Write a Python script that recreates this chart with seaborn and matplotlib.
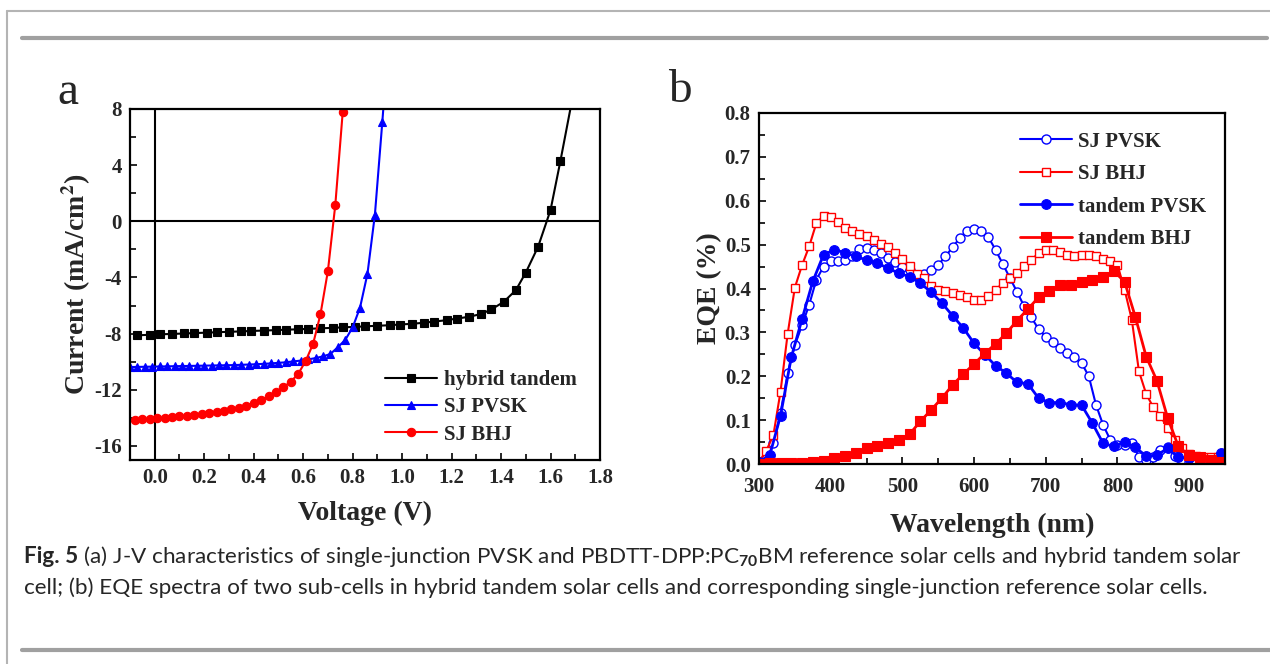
import numpy as np
import pandas as pd
import matplotlib
matplotlib.use("Agg")
import matplotlib.pyplot as plt
from matplotlib.lines import Line2D
from matplotlib.ticker import MultipleLocator, FormatStrFormatter
import seaborn as sns

# ---- panel a: J-V curves ----
v_tandem = [-0.07, -0.02, 0.02, 0.07, 0.12, 0.16, 0.21, 0.25, 0.30, 0.35, 0.39, 0.44,
            0.49, 0.53, 0.58, 0.62, 0.67, 0.72, 0.76, 0.81, 0.85, 0.90, 0.95, 0.99,
            1.04, 1.09, 1.13, 1.18, 1.22, 1.27, 1.32, 1.36, 1.41, 1.46, 1.50, 1.55,
            1.60, 1.64, 1.69]
j_tandem = [-8.12, -8.08, -8.05, -8.02, -7.99, -7.96, -7.93, -7.90, -7.87, -7.84, -7.81, -7.78,
            -7.75, -7.72, -7.69, -7.66, -7.62, -7.59, -7.55, -7.52, -7.48, -7.44, -7.40, -7.35,
            -7.30, -7.22, -7.14, -7.04, -6.93, -6.80, -6.60, -6.28, -5.75, -4.90, -3.65, -1.80,
            0.80, 4.30, 8.90]

v_pvsk = [-0.10, -0.07, -0.04, -0.01, 0.02, 0.05, 0.08, 0.11, 0.14, 0.17, 0.20, 0.23,
          0.26, 0.29, 0.32, 0.35, 0.38, 0.41, 0.44, 0.47, 0.50, 0.53, 0.56, 0.59,
          0.62, 0.65, 0.68, 0.71, 0.74, 0.77, 0.80, 0.83, 0.86, 0.89, 0.92, 0.95]
j_pvsk = [-10.38, -10.37, -10.36, -10.35, -10.34, -10.33, -10.32, -10.31, -10.30, -10.29, -10.28, -10.27,
          -10.26, -10.25, -10.24, -10.22, -10.20, -10.18, -10.15, -10.12, -10.08, -10.04, -9.98, -9.92,
          -9.84, -9.74, -9.62, -9.45, -8.97, -8.45, -7.56, -6.14, -3.73, 0.47, 7.08, 14.0]

v_bhj = [-0.08, -0.05, -0.02, 0.01, 0.04, 0.07, 0.10, 0.13, 0.16, 0.19, 0.22, 0.25,
         0.28, 0.31, 0.34, 0.37, 0.40, 0.43, 0.46, 0.49, 0.52, 0.55, 0.58, 0.61,
         0.64, 0.67, 0.70, 0.73, 0.76]
j_bhj = [-14.15, -14.11, -14.07, -14.03, -13.99, -13.95, -13.90, -13.85, -13.80, -13.74, -13.67, -13.59,
         -13.50, -13.40, -13.27, -13.12, -12.93, -12.72, -12.47, -12.17, -11.82, -11.42, -10.87, -9.95,
         -8.74, -6.62, -3.54, 1.18, 7.80]

# ---- panel b: EQE spectra ----
wl_sj = [300, 310, 320, 330, 340, 350, 360, 370, 380, 390, 400, 410, 420, 430, 440, 450,
         460, 470, 480, 490, 500, 510, 520, 530, 540, 550, 560, 570, 580, 590, 600, 610,
         620, 630, 640, 650, 660, 670, 680, 690, 700, 710, 720, 730, 740, 750, 760, 770,
         780, 790, 800, 810, 820, 830, 840, 850, 860, 870, 880, 890, 900, 910, 920, 930,
         940, 950]
eqe_sj_pvsk = [0.005, 0.012, 0.047, 0.116, 0.207, 0.271, 0.316, 0.363, 0.420, 0.450, 0.462, 0.462,
               0.465, 0.475, 0.490, 0.492, 0.487, 0.481, 0.469, 0.460, 0.450, 0.443, 0.431, 0.433,
               0.443, 0.454, 0.473, 0.494, 0.515, 0.532, 0.535, 0.530, 0.517, 0.488, 0.456, 0.424,
               0.392, 0.359, 0.334, 0.307, 0.290, 0.277, 0.264, 0.252, 0.243, 0.230, 0.200, 0.135,
               0.089, 0.055, 0.043, 0.043, 0.047, 0.017, 0.009, 0.017, 0.033, 0.038, 0.018, 0.005,
               0.005, 0.002, 0.005, 0.010, 0.015, 0.020]
eqe_sj_bhj = [0.005, 0.030, 0.065, 0.165, 0.297, 0.402, 0.453, 0.496, 0.549, 0.566, 0.564, 0.551,
              0.538, 0.532, 0.525, 0.519, 0.511, 0.502, 0.494, 0.481, 0.467, 0.452, 0.433, 0.424,
              0.406, 0.397, 0.395, 0.389, 0.386, 0.380, 0.374, 0.374, 0.383, 0.397, 0.412, 0.424,
              0.436, 0.452, 0.465, 0.481, 0.487, 0.487, 0.483, 0.477, 0.473, 0.477, 0.477, 0.473,
              0.468, 0.462, 0.454, 0.397, 0.329, 0.211, 0.160, 0.129, 0.110, 0.081, 0.055, 0.036,
              0.023, 0.018, 0.017, 0.015, 0.017, 0.024]

wl_tandem = [300, 315, 330, 345, 360, 375, 390, 405, 420, 435, 450, 465, 480, 495, 510, 525,
             540, 555, 570, 585, 600, 615, 630, 645, 660, 675, 690, 705, 720, 735, 750, 765,
             780, 795, 810, 825, 840, 855, 870, 885, 900, 915, 930, 945]
eqe_tandem_pvsk = [0.005, 0.020, 0.110, 0.243, 0.330, 0.416, 0.477, 0.488, 0.482, 0.473, 0.465, 0.458,
                   0.446, 0.435, 0.427, 0.412, 0.392, 0.367, 0.338, 0.310, 0.275, 0.249, 0.224, 0.207,
                   0.186, 0.183, 0.150, 0.140, 0.140, 0.135, 0.134, 0.093, 0.047, 0.040, 0.051, 0.038,
                   0.018, 0.020, 0.036, 0.015, 0.013, 0.011, 0.009, 0.024]
eqe_tandem_bhj = [0.000, 0.002, 0.002, 0.002, 0.003, 0.004, 0.007, 0.013, 0.018, 0.026, 0.036, 0.041,
                  0.047, 0.055, 0.068, 0.097, 0.123, 0.150, 0.180, 0.205, 0.228, 0.252, 0.274, 0.298,
                  0.327, 0.353, 0.380, 0.395, 0.407, 0.408, 0.414, 0.420, 0.426, 0.440, 0.415, 0.335,
                  0.245, 0.190, 0.105, 0.040, 0.020, 0.015, 0.008, 0.005]

caption_1 = " (a) J-V characteristics of single-junction PVSK and PBDTT-DPP:PC$_{70}$BM reference solar cells and hybrid tandem solar"
caption_2 = "cell; (b) EQE spectra of two sub-cells in hybrid tandem solar cells and corresponding single-junction reference solar cells."

sns.set_style("ticks")
plt.rcParams["font.family"] = ["Liberation Serif", "DejaVu Serif"]
plt.rcParams["font.weight"] = "bold"
plt.rcParams["axes.unicode_minus"] = False
plt.rcParams["mathtext.fontset"] = "custom"
plt.rcParams["mathtext.rm"] = "Lato"
plt.rcParams["mathtext.bf"] = "Lato:bold"

W, H = 1270, 664
fig = plt.figure(figsize=(W / 100, H / 100), dpi=100)
fig.patch.set_facecolor("white")

ax_a = fig.add_axes([130 / W, 1 - 460 / H, 470 / W, 351 / H])
ax_b = fig.add_axes([759 / W, 1 - 464 / H, 466 / W, 351 / H])

lw = 1.5
# panel a
ax_a.axhline(0, color="black", lw=1.5, zorder=1)
ax_a.axvline(0, color="black", lw=1.5, zorder=1)
sns.lineplot(x=v_tandem, y=j_tandem, ax=ax_a, color="black", lw=lw, marker="s", markersize=5.5,
             mec="black", mew=0.8, estimator=None, sort=False, label="hybrid tandem")
sns.lineplot(x=v_pvsk, y=j_pvsk, ax=ax_a, color="blue", lw=lw, marker="^", markersize=6,
             mec="blue", mew=0.8, estimator=None, sort=False, label="SJ PVSK")
sns.lineplot(x=v_bhj, y=j_bhj, ax=ax_a, color="red", lw=lw, marker="o", markersize=6,
             mec="red", mew=0.8, estimator=None, sort=False, label="SJ BHJ")

ax_a.set_xlim(-0.1, 1.8)
ax_a.set_ylim(-17, 8)
ax_a.xaxis.set_major_locator(MultipleLocator(0.2))
ax_a.xaxis.set_minor_locator(MultipleLocator(0.1))
ax_a.yaxis.set_major_locator(MultipleLocator(4))
ax_a.yaxis.set_minor_locator(MultipleLocator(2))
ax_a.xaxis.set_major_formatter(FormatStrFormatter("%.1f"))
ax_a.set_xlabel("Voltage (V)", fontsize=20, fontweight="bold", labelpad=9)
ax_a.set_ylabel(r"Current (mA/cm$^\mathbf{2}$)", fontsize=20, fontweight="bold", labelpad=1,
                math_fontfamily="stix")
ax_a.legend(loc="lower right", bbox_to_anchor=(0.99, -0.01), frameon=False, handlelength=2.5,
            handletextpad=0.3, labelspacing=0.35, prop={"size": 15, "weight": "bold"})

# panel b
sns.lineplot(x=wl_sj, y=eqe_sj_pvsk, ax=ax_b, color="blue", lw=lw, marker="o", markersize=6.5,
             mfc="white", mec="blue", mew=1.0, estimator=None, sort=False, label="SJ PVSK")
sns.lineplot(x=wl_sj, y=eqe_sj_bhj, ax=ax_b, color="red", lw=lw, marker="s", markersize=6,
             mfc="white", mec="red", mew=1.0, estimator=None, sort=False, label="SJ BHJ")
sns.lineplot(x=wl_tandem, y=eqe_tandem_pvsk, ax=ax_b, color="blue", lw=2, marker="o", markersize=7,
             mec="blue", mew=0.8, estimator=None, sort=False, label="tandem PVSK")
sns.lineplot(x=wl_tandem, y=eqe_tandem_bhj, ax=ax_b, color="red", lw=2, marker="s", markersize=6.5,
             mec="red", mew=0.8, estimator=None, sort=False, label="tandem BHJ")

ax_b.set_xlim(300, 950)
ax_b.set_ylim(0, 0.8)
ax_b.xaxis.set_major_locator(MultipleLocator(100))
ax_b.xaxis.set_minor_locator(MultipleLocator(50))
ax_b.yaxis.set_major_locator(MultipleLocator(0.1))
ax_b.yaxis.set_minor_locator(MultipleLocator(0.05))
ax_b.yaxis.set_major_formatter(FormatStrFormatter("%.1f"))
ax_b.set_xlabel("Wavelength (nm)", fontsize=20, fontweight="bold", labelpad=12)
ax_b.set_ylabel("EQE (%)", fontsize=20, fontweight="bold", labelpad=2)
ax_b.legend(loc="upper right", bbox_to_anchor=(1.0, 1.0), frameon=False, handlelength=2.5,
            handletextpad=0.3, labelspacing=0.6, prop={"size": 15, "weight": "bold"})

for ax in (ax_a, ax_b):
    for s in ax.spines.values():
        s.set_linewidth(1.6)
        s.set_color("black")
    ax.tick_params(which="both", direction="in", top=False, right=False, width=1.4,
                   labelsize=15, pad=6)
    ax.tick_params(which="major", length=5)
    ax.tick_params(which="minor", length=4)
    for lab in ax.get_xticklabels() + ax.get_yticklabels():
        lab.set_fontweight("bold")
ax_b.tick_params(axis="x", which="both", pad=9)

fig.text(68 / W, 1 - 104 / H, "a", fontsize=34, fontweight="normal", ha="center", va="baseline")
fig.text(680 / W, 1 - 102 / H, "b", fontsize=34, fontweight="normal", ha="center", va="baseline")

# page frame and rules
grey = "#b4b4b4"
fig.add_artist(Line2D([7 / W, 7 / W], [0, 1 - 11 / H], color=grey, lw=1.5, transform=fig.transFigure))
fig.add_artist(Line2D([7 / W, 1], [1 - 11 / H, 1 - 11 / H], color=grey, lw=1.5, transform=fig.transFigure))
fig.add_artist(Line2D([22 / W, 1267 / W], [1 - 38 / H, 1 - 38 / H], color="#a0a0a0", lw=3,
                      transform=fig.transFigure))
fig.add_artist(Line2D([22 / W, 1], [1 - 650 / H, 1 - 650 / H], color="#a0a0a0", lw=3,
                      transform=fig.transFigure))

# caption
cap_font = ["Lato", "DejaVu Sans"]
cap_size = 16.2
t1 = fig.text(24 / W, 1 - 563 / H, "Fig. 5", fontsize=cap_size, fontweight="bold", family=cap_font,
              ha="left", va="baseline")
fig.canvas.draw()
bb = t1.get_window_extent()
fig.text(bb.x1 / W, 1 - 563 / H, caption_1, fontsize=cap_size, fontweight="normal", family=cap_font,
         ha="left", va="baseline")
fig.text(24 / W, 1 - 594 / H, caption_2, fontsize=cap_size, fontweight="normal", family=cap_font,
         ha="left", va="baseline")

fig.savefig("out.png", dpi=100)
